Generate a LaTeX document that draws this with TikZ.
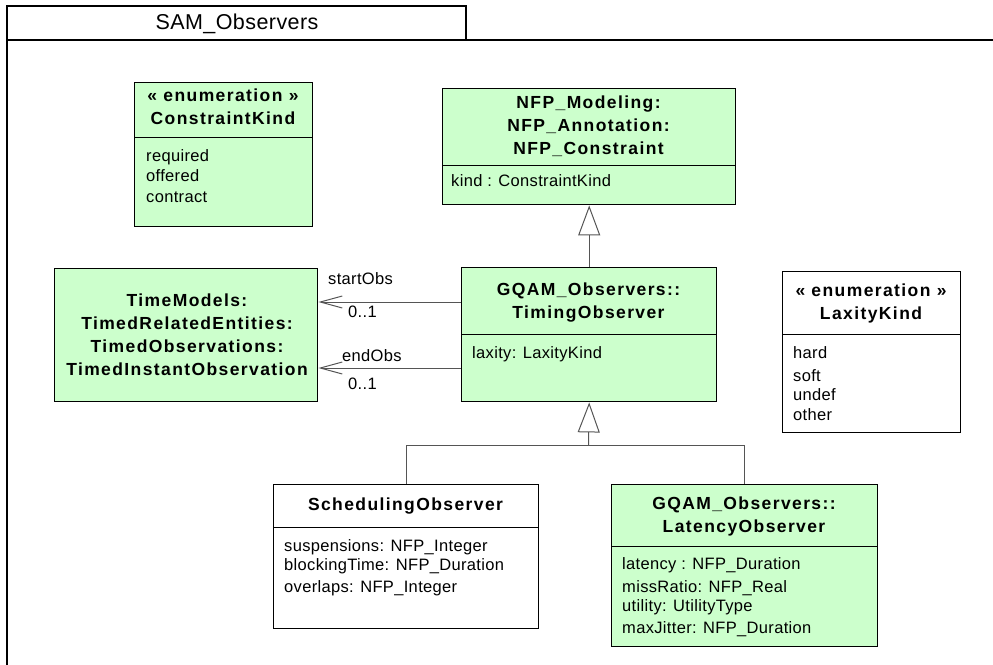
\documentclass[tikz,border=0pt]{standalone}
\usepackage{fontspec}
\setmainfont{Liberation Sans}
\newfontfamily\attrfont{Liberation Sans}[LetterSpace=2]
\newfontfamily\titlefont{Liberation Sans}[LetterSpace=8]
\usetikzlibrary{arrows.meta}

\definecolor{umlgreen}{RGB}{204,255,204}
\definecolor{linegray}{RGB}{85,85,85}

\tikzset{
  classbox/.style={draw, line width=1.4pt, fill=umlgreen, anchor=north west, inner sep=0pt},
  plainbox/.style={classbox, fill=white},
  divider/.style={line width=1pt},
  title/.style={font=\titlefont\bfseries\fontsize{17.5}{23}\selectfont, align=center, inner sep=0pt},
  attr/.style={font=\attrfont\fontsize{16.5}{20}\selectfont, anchor=west, inner sep=0pt, text height=12pt, text depth=3.5pt},
  role/.style={attr},
  conn/.style={draw=linegray, line width=1pt},
  assoc/.style={conn, -{Straight Barb[length=22pt, width=12pt]}},
  gener/.style={conn, -{Triangle[length=30pt, width=22pt, fill=white]}},
  pkg/.style={line width=1.2pt},
}

\begin{document}
\begin{tikzpicture}[x=1pt, y=-1pt]
    \useasboundingbox (0,0) rectangle (993,664);
    \clip (0,0) rectangle (993,664);

    % package frame
    \draw[pkg] (7,6) rectangle (466,40);
    \draw[pkg] (7,700) -- (7,40) -- (1010,40);
    \node[font=\attrfont\fontsize{21.5}{24}\selectfont] (pkgname) at (237,24) {SAM\_Observers};

    % ConstraintKind
    \node[classbox, minimum width=178pt, minimum height=144pt] (ck) at (134,82) {};
    \draw[divider] (ck.west |- 0,137) -- (ck.east |- 0,137);
    \node[title] (cktitle) at (223,107) {« enumeration »\\ConstraintKind};
    \foreach \y/\t [count=\i] in {157/required, 177/offered, 198/contract}
        \node[attr] (ck-\i) at (146,\y) {\t};

    % NFP_Constraint
    \node[classbox, minimum width=293pt, minimum height=116pt] (nfp) at (442,88) {};
    \draw[divider] (nfp.west |- 0,165) -- (nfp.east |- 0,165);
    \node[title] (nfptitle) at (588.5,126) {NFP\_Modeling:\\NFP\_Annotation:\\NFP\_Constraint};
    \node[attr] (nfp-1) at (451,182) {kind : ConstraintKind};

    % TimingObserver
    \node[classbox, minimum width=255pt, minimum height=134pt] (timing) at (461,267) {};
    \draw[divider] (timing.west |- 0,334) -- (timing.east |- 0,334);
    \node[title] (timingtitle) at (588.5,302.5) {GQAM\_Observers::\\TimingObserver};
    \node[attr] (timing-1) at (472,354) {laxity: LaxityKind};

    % TimedInstantObservation
    \node[classbox, minimum width=263pt, minimum height=133pt] (tio) at (54,268) {};
    \node[title] (tiotitle) at (187,335) {TimeModels:\\TimedRelatedEntities:\\TimedObservations:\\TimedInstantObservation};

    % LaxityKind
    \node[plainbox, minimum width=178pt, minimum height=161pt] (lk) at (782,271) {};
    \draw[divider] (lk.west |- 0,334) -- (lk.east |- 0,334);
    \node[title] (lktitle) at (871,303) {« enumeration »\\LaxityKind};
    \foreach \y/\t [count=\i] in {354/hard, 377/soft, 396/undef, 416/other}
        \node[attr] (lk-\i) at (793,\y) {\t};

    % SchedulingObserver
    \node[plainbox, minimum width=265pt, minimum height=144pt] (sched) at (273,484) {};
    \draw[divider] (sched.west |- 0,527) -- (sched.east |- 0,527);
    \node[title] (schedtitle) at (405.5,506) {SchedulingObserver};
    \foreach \y/\t [count=\i] in {547/suspensions: NFP\_Integer, 566/blockingTime: NFP\_Duration, 588/overlaps: NFP\_Integer}
        \node[attr] (sched-\i) at (284,\y) {\t};

    % LatencyObserver
    \node[classbox, minimum width=266pt, minimum height=162pt] (lat) at (611,484) {};
    \draw[divider] (lat.west |- 0,546) -- (lat.east |- 0,546);
    \node[title] (lattitle) at (744,516) {GQAM\_Observers::\\LatencyObserver};
    \foreach \y/\t [count=\i] in {565/latency : NFP\_Duration, 588/missRatio: NFP\_Real, 607/utility: UtilityType, 629/maxJitter: NFP\_Duration}
        \node[attr] (lat-\i) at (622,\y) {\t};

    % generalizations
    \draw[gener] (timing.north) -- (nfp.south);
    \coordinate (bar) at (588.5,445);
    \draw[conn] (sched.north) |- (lat.north |- bar) -- (lat.north);
    \draw[gener] (bar) -- (timing.south);

    % associations
    \coordinate (start) at (461,302);
    \coordinate (end) at (461,368);
    \draw[assoc] (start) -- (start -| tio.east);
    \draw[assoc] (end) -- (end -| tio.east);
    \node[role] (startrole) at (328,280) {startObs};
    \node[role] (startmult) at (348,313) {0..1};
    \node[role] (endrole) at (342,357) {endObs};
    \node[role] (endmult) at (348,385) {0..1};
\end{tikzpicture}
\end{document}
